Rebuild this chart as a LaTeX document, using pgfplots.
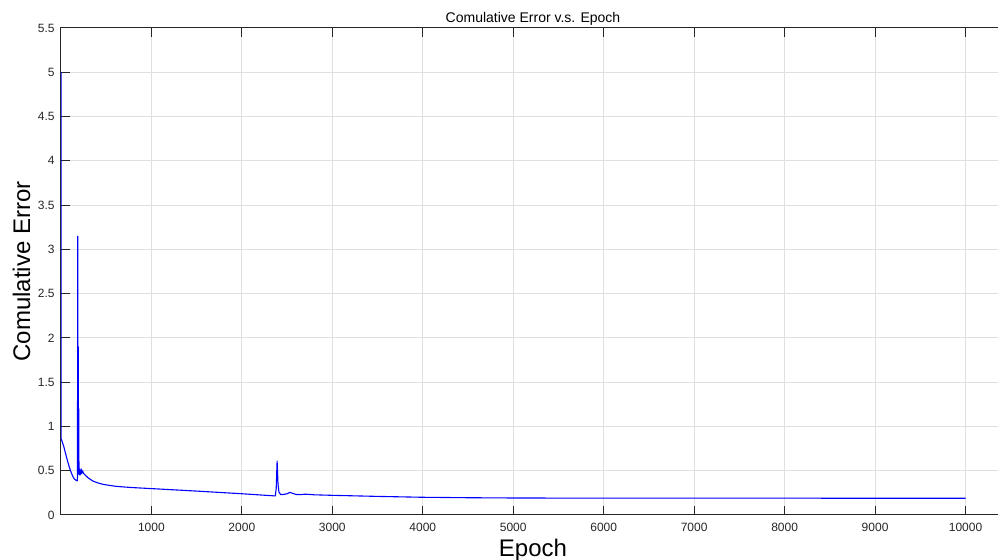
\documentclass[border=0pt]{standalone}
\usepackage{pgfplots}
\pgfplotsset{compat=1.18}
\usepackage{fontspec}
\setmainfont{Liberation Sans}
\definecolor{axgray}{HTML}{262626}
\definecolor{gridgray}{HTML}{DFDFDF}
\begin{document}
\begin{tikzpicture}
\begin{axis}[
  scale only axis,
  width=472pt, height=243.5pt,
  xmin=1, xmax=10436,
  ymin=0, ymax=5.5,
  axis line style={color=axgray, line width=0.5pt},
  xtick={1000,2000,...,10000},
  ytick={0,0.5,...,5.5},
  yticklabels={0,0.5,1,1.5,2,2.5,3,3.5,4,4.5,5,5.5},
  scaled x ticks=false,
  xticklabel={\pgfmathprintnumber[fixed,1000 sep={}]{\tick}},
  /pgf/number format/assume math mode=true,
  tick align=inside,
  major tick length=4.7pt,
  tick style={color=axgray, line width=0.5pt},
  xtick pos=both, ytick pos=left,
  grid=major,
  major grid style={color=gridgray, line width=0.5pt},
  ticklabel style={font=\fontsize{6}{7}\selectfont, color=axgray},
  xticklabel style={inner sep=0pt, anchor=north, yshift=-4pt},
  yticklabel style={inner sep=0pt, anchor=east, xshift=-3pt},
  title={Comulative Error v.s. Epoch},
  title style={font=\fontsize{7}{8}\selectfont, at={(axis description cs:0.5,1.0123)}, anchor=base, inner sep=0pt, yshift=-6pt},
  xlabel={Epoch},
  xlabel style={font=\fontsize{12}{14}\selectfont, at={(axis description cs:0.5,-0.0862)}, anchor=base, inner sep=0pt},
  ylabel={Comulative Error},
  ylabel style={font=\fontsize{12}{14}\selectfont, at={(axis description cs:-0.0328,0.5)}, anchor=base, inner sep=0pt},
]
\addplot[color=blue, line width=0.55pt, line join=round] coordinates {
(1,5.0) (3,0.86) (10,0.84) (30,0.78) (60,0.66) (90,0.55) (110,0.49) (130,0.44)
(150,0.405) (170,0.39) (180,0.385) (183,0.42) (186,3.15) (189,0.6) (192,1.9)
(194,0.5) (197,1.2) (200,0.46) (205,0.52) (210,0.45) (215,0.5) (220,0.46)
(225,0.52) (230,0.47) (240,0.5) (250,0.47) (260,0.46) (280,0.44) (300,0.42)
(350,0.385) (400,0.365) (450,0.35) (500,0.34) (600,0.325) (700,0.316) (800,0.309)
(1000,0.298) (1500,0.27) (2000,0.24) (2370,0.215) (2380,0.3) (2390,0.61)
(2400,0.35) (2410,0.26) (2430,0.23) (2460,0.232) (2500,0.24) (2530,0.255)
(2560,0.245) (2600,0.232) (2650,0.23) (2700,0.235) (2750,0.232) (2800,0.228)
(3000,0.222) (3500,0.21) (4000,0.2) (4500,0.195) (5000,0.192) (6000,0.19)
(7000,0.19) (8000,0.19) (9000,0.189) (10000,0.189)
};
\end{axis}
\pgfresetboundingbox
\path (-30.5pt,-22.5pt) rectangle (468.5pt,257.5pt);
\end{tikzpicture}
\end{document}
